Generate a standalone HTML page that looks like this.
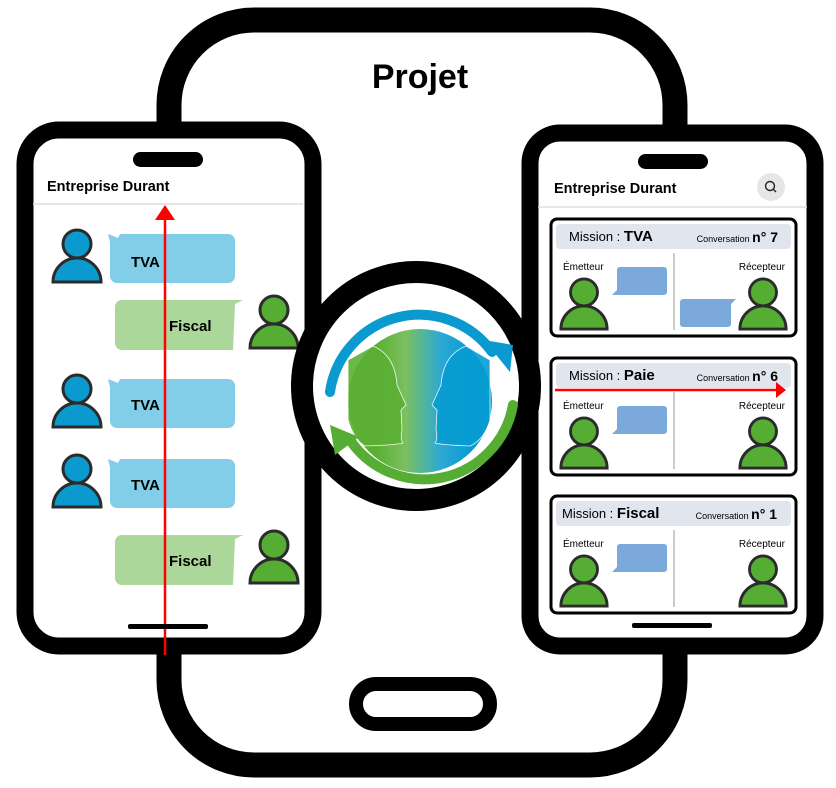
<!DOCTYPE html>
<html><head><meta charset="utf-8"><style>
html,body{margin:0;padding:0;background:#fff}
svg{display:block}
text{font-family:"Liberation Sans","DejaVu Sans",sans-serif}
</style></head><body>
<svg width="836" height="788" viewBox="0 0 836 788" xmlns="http://www.w3.org/2000/svg">
<defs>
<symbol id="pb" viewBox="0 0 54 57"><circle cx="27" cy="17" r="14" fill="#0a9ad0" stroke="#2b2b2b" stroke-width="3"/><path d="M3,55 A24,24 0 0 1 51,55 Z" fill="#0a9ad0" stroke="#2b2b2b" stroke-width="3"/></symbol>
<symbol id="pg" viewBox="0 0 54 57"><circle cx="27" cy="17" r="14" fill="#56ad34" stroke="#2b2b2b" stroke-width="3"/><path d="M3,55 A24,24 0 0 1 51,55 Z" fill="#56ad34" stroke="#2b2b2b" stroke-width="3"/></symbol>
<linearGradient id="fg" x1="0" x2="1" y1="0" y2="0"><stop offset="0.2" stop-color="#5bb034"/><stop offset="0.4" stop-color="#7cc060"/><stop offset="0.65" stop-color="#2aa8d6"/><stop offset="0.85" stop-color="#079cd1"/></linearGradient>
</defs>

<rect x="169" y="20" width="506" height="745" rx="85" fill="#fff" stroke="#000" stroke-width="25"/>
<text x="420" y="88" font-size="34" font-weight="bold" text-anchor="middle">Projet</text>
<rect x="356" y="684" width="134" height="40" rx="20" fill="#fff" stroke="#000" stroke-width="14"/>

<rect x="25" y="130" width="288" height="516" rx="34" fill="#fff" stroke="#000" stroke-width="17"/>
<rect x="133" y="152" width="70" height="15" rx="7.5" fill="#000"/>
<text x="47" y="191" font-size="14.5" font-weight="bold">Entreprise Durant</text>
<line x1="33" y1="204" x2="303" y2="204" stroke="#ddd" stroke-width="1.5"/>

<g>
<path d="M108,234 L118,238 L120,234 H228 a7,7 0 0 1 7,7 v35 a7,7 0 0 1 -7,7 H117 a7,7 0 0 1 -7,-7 V242 Z" fill="#82cde8"/>
<text x="131" y="267" font-size="15" font-weight="bold">TVA</text>
<use href="#pb" x="50" y="227" width="54" height="57"/>
<path d="M243,300 L235,304 L233,350 H122 a7,7 0 0 1 -7,-7 V307 a7,7 0 0 1 7,-7 Z" fill="#acd79a"/>
<text x="169" y="331" font-size="15" font-weight="bold">Fiscal</text>
<use href="#pg" x="247" y="293" width="54" height="57"/>
<path d="M108,379 L118,383 L120,379 H228 a7,7 0 0 1 7,7 v35 a7,7 0 0 1 -7,7 H117 a7,7 0 0 1 -7,-7 V387 Z" fill="#82cde8"/>
<text x="131" y="410" font-size="15" font-weight="bold">TVA</text>
<use href="#pb" x="50" y="372" width="54" height="57"/>
<path d="M108,459 L118,463 L120,459 H228 a7,7 0 0 1 7,7 v35 a7,7 0 0 1 -7,7 H117 a7,7 0 0 1 -7,-7 V467 Z" fill="#82cde8"/>
<text x="131" y="490" font-size="15" font-weight="bold">TVA</text>
<use href="#pb" x="50" y="452" width="54" height="57"/>
<path d="M243,535 L235,539 L233,585 H122 a7,7 0 0 1 -7,-7 V542 a7,7 0 0 1 7,-7 Z" fill="#acd79a"/>
<text x="169" y="566" font-size="15" font-weight="bold">Fiscal</text>
<use href="#pg" x="247" y="528" width="54" height="57"/>
</g>
<line x1="165" y1="655" x2="165" y2="218" stroke="#f00" stroke-width="2.5"/>
<path d="M155,220 L165,205 L175,220 Z" fill="#f00"/>
<rect x="128" y="624" width="80" height="5" rx="2" fill="#000"/>

<rect x="530" y="133" width="285" height="513" rx="30" fill="#fff" stroke="#000" stroke-width="17"/>
<rect x="638" y="154" width="70" height="15" rx="7.5" fill="#000"/>
<text x="554" y="193" font-size="14.5" font-weight="bold">Entreprise Durant</text>
<circle cx="771" cy="187" r="14" fill="#e6e6e6"/>
<circle cx="770" cy="186" r="4.5" fill="none" stroke="#222" stroke-width="1.4"/>
<line x1="773" y1="189" x2="776" y2="192" stroke="#222" stroke-width="1.4"/>
<line x1="538" y1="207" x2="807" y2="207" stroke="#ddd" stroke-width="1.5"/>

<g>
<rect x="551" y="219" width="245" height="117" rx="6" fill="#fff" stroke="#000" stroke-width="3"/>
<rect x="556" y="224" width="235" height="25" rx="4" fill="#e1e5ee"/>
<text x="569" y="241" font-size="13">Mission : <tspan font-weight="bold" font-size="15">TVA</tspan></text>
<text x="778" y="242" font-size="9" text-anchor="end">Conversation <tspan font-weight="bold" font-size="14">n° 7</tspan></text>
<line x1="674" y1="253" x2="674" y2="330" stroke="#bbb" stroke-width="1.5"/>
<text x="563" y="270" font-size="10">Émetteur</text>
<text x="785" y="270" font-size="10" text-anchor="end">Récepteur</text>
<path d="M612,295 L617,290 V270 a3,3 0 0 1 3,-3 H664 a3,3 0 0 1 3,3 V292 a3,3 0 0 1 -3,3 Z" fill="#7ba9dc"/>
<path d="M736,299 L731,304 V324 a3,3 0 0 1 -3,3 H683 a3,3 0 0 1 -3,-3 V302 a3,3 0 0 1 3,-3 Z" fill="#7ba9dc"/>
<use href="#pg" x="558" y="276" width="52" height="55"/>
<use href="#pg" x="737" y="276" width="52" height="55"/>
</g>
<g>
<rect x="551" y="358" width="245" height="117" rx="6" fill="#fff" stroke="#000" stroke-width="3"/>
<rect x="556" y="363" width="235" height="25" rx="4" fill="#e1e5ee"/>
<text x="569" y="380" font-size="13">Mission : <tspan font-weight="bold" font-size="15">Paie</tspan></text>
<text x="778" y="381" font-size="9" text-anchor="end">Conversation <tspan font-weight="bold" font-size="14">n° 6</tspan></text>
<line x1="674" y1="392" x2="674" y2="469" stroke="#bbb" stroke-width="1.5"/>
<text x="563" y="409" font-size="10">Émetteur</text>
<text x="785" y="409" font-size="10" text-anchor="end">Récepteur</text>
<path d="M612,434 L617,429 V409 a3,3 0 0 1 3,-3 H664 a3,3 0 0 1 3,3 V431 a3,3 0 0 1 -3,3 Z" fill="#7ba9dc"/>
<use href="#pg" x="558" y="415" width="52" height="55"/>
<use href="#pg" x="737" y="415" width="52" height="55"/>
<line x1="555" y1="390" x2="777" y2="390" stroke="#f00" stroke-width="2.5"/>
<path d="M776,382 L786,390 L776,398 Z" fill="#f00"/>
</g>
<g>
<rect x="551" y="496" width="245" height="117" rx="6" fill="#fff" stroke="#000" stroke-width="3"/>
<rect x="556" y="501" width="235" height="25" rx="4" fill="#e1e5ee"/>
<text x="562" y="518" font-size="13">Mission : <tspan font-weight="bold" font-size="15">Fiscal</tspan></text>
<text x="777" y="519" font-size="9" text-anchor="end">Conversation <tspan font-weight="bold" font-size="14">n° 1</tspan></text>
<line x1="674" y1="530" x2="674" y2="607" stroke="#bbb" stroke-width="1.5"/>
<text x="563" y="547" font-size="10">Émetteur</text>
<text x="785" y="547" font-size="10" text-anchor="end">Récepteur</text>
<path d="M612,572 L617,567 V547 a3,3 0 0 1 3,-3 H664 a3,3 0 0 1 3,3 V569 a3,3 0 0 1 -3,3 Z" fill="#7ba9dc"/>
<use href="#pg" x="558" y="553" width="52" height="55"/>
<use href="#pg" x="737" y="553" width="52" height="55"/>
</g>
<rect x="632" y="623" width="80" height="5" rx="2" fill="#000"/>

<circle cx="416" cy="386" r="114" fill="#fff" stroke="#000" stroke-width="22"/>
<circle cx="420" cy="401" r="72" fill="url(#fg)"/>
<path d="M373,346 Q395,355 397,385 L406,405 L401,410 L402,430 Q400,440 403,443 Q396,445 365,446 Q354,440 348,420 L348,360 Z" fill="#5bb034" stroke="#fff" stroke-width="0.8" opacity="0.9"/>
<path d="M466,346 Q443,355 441,385 L432,405 L437,410 L436,430 Q438,440 435,443 Q442,445 470,446 Q484,440 490,420 L490,360 Z" fill="#079cd1" stroke="#fff" stroke-width="0.8" opacity="0.9"/>
<path d="M330,392 A90,90 0 0 1 492,352" fill="none" stroke="#0a9ad0" stroke-width="10" stroke-linecap="round"/>
<path d="M484,340 L513,345 L510,372 Z" fill="#0a9ad0"/>
<path d="M513,405 A90,90 0 0 1 350,440" fill="none" stroke="#56ad34" stroke-width="10" stroke-linecap="round"/>
<path d="M330,425 L359,437 L335,455 Z" fill="#56ad34"/>
</svg>
</body></html>
